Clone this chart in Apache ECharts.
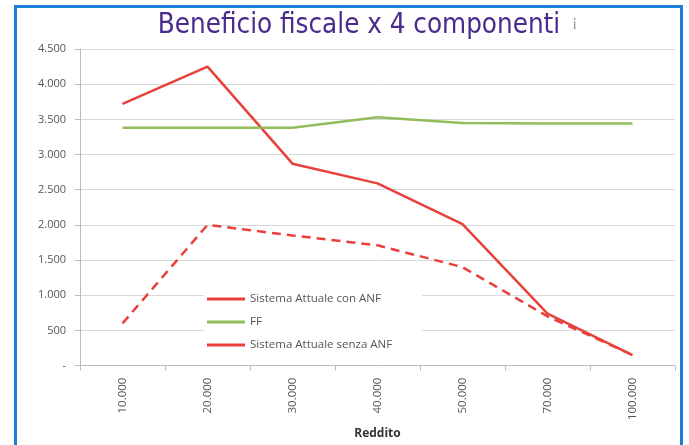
<!DOCTYPE html>
<html>
<head>
<meta charset="utf-8">
<script src="https://cdn.jsdelivr.net/npm/echarts@6/dist/echarts.min.js"></script>
<style>
  html, body { margin: 0; padding: 0; background: #fff; }
  #frame { position: absolute; left: 14px; top: 5px; width: 663px; height: 440px;
           border: 3px solid #1b7fd6; border-bottom: none; }
  #chart { position: absolute; left: 0; top: 0; width: 689px; height: 445px; }
</style>
</head>
<body>
<div id="frame"></div>
<div id="chart"></div>
<script>
// categorie di reddito
var redditi = ['10.000', '20.000', '30.000', '40.000', '50.000', '70.000', '100.000'];
// serie
var conANF = [3720, 4250, 2870, 2590, 2010, 740, 150];
var ff = [3380, 3380, 3380, 3530, 3450, 3440, 3440];
var senzaANF = [600, 2000, 1850, 1710, 1400, 700, 150];

var rosso = '#e8413b';
var verde = '#92bd5a';

function fmt(v) {
  if (v === 0) return '-';
  var s = String(v);
  return s.length > 3 ? s.slice(0, s.length - 3) + '.' + s.slice(-3) : s;
}

var myChart = echarts.init(document.getElementById('chart'));
myChart.setOption({
  animation: false,
  title: {
    text: 'Beneficio fiscale x 4 componenti',
    left: 354,
    textAlign: 'center',
    top: 7,
    textStyle: { color: '#4a2a8c', fontFamily: '"DejaVu Sans Condensed", "Liberation Sans Narrow", "Liberation Sans", sans-serif', fontWeight: 'normal', fontSize: 27.5 }
  },
  graphic: [
    { type: 'text', left: 572, top: 15, style: { text: '¡', fill: '#999', fontSize: 16, fontFamily: 'Liberation Sans' } }
  ],
  legend: {
    orient: 'vertical',
    left: 204,
    top: 288,
    itemWidth: 38,
    itemHeight: 3,
    itemGap: 11,
    padding: [5, 30, 5, 3],
    backgroundColor: '#fff',
    icon: 'rect',
    textStyle: { color: '#555', fontSize: 11.5, fontFamily: 'Open Sans' },
    data: [
      { name: 'Sistema Attuale con ANF' },
      { name: 'FF' },
      { name: 'Sistema Attuale senza ANF' }
    ]
  },
  grid: { left: 80, right: 14, top: 49, bottom: 78 },
  xAxis: {
    type: 'category',
    data: redditi,
    name: 'Reddito',
    nameLocation: 'middle',
    nameGap: 62,
    nameTextStyle: { color: '#333', fontWeight: 'bold', fontSize: 12, fontFamily: 'Open Sans' },
    axisLine: { lineStyle: { color: '#bbb' } },
    axisTick: { show: true, length: 5, lineStyle: { color: '#bbb' } },
    axisLabel: { rotate: 90, color: '#555', fontSize: 11.5, fontFamily: 'Open Sans', margin: 12 }
  },
  yAxis: {
    type: 'value',
    min: 0,
    max: 4500,
    interval: 500,
    axisLine: { show: true, lineStyle: { color: '#bbb' } },
    axisTick: { show: true, length: 5, lineStyle: { color: '#bbb' } },
    splitLine: { lineStyle: { color: '#d9d9d9', width: 1 } },
    axisLabel: { color: '#555', fontSize: 11, fontFamily: 'Open Sans', margin: 14, formatter: fmt }
  },
  series: [
    {
      name: 'Sistema Attuale con ANF',
      type: 'line',
      data: conANF,
      symbol: 'none',
      z: 3,
      itemStyle: { color: rosso },
      lineStyle: { color: rosso, width: 2.5 }
    },
    {
      name: 'FF',
      type: 'line',
      data: ff,
      symbol: 'none',
      itemStyle: { color: verde },
      lineStyle: { color: verde, width: 2.5 }
    },
    {
      name: 'Sistema Attuale senza ANF',
      type: 'line',
      data: senzaANF,
      symbol: 'none',
      itemStyle: { color: rosso },
      lineStyle: { color: rosso, width: 2.5, type: [9, 6] }
    }
  ]
});
</script>
</body>
</html>
